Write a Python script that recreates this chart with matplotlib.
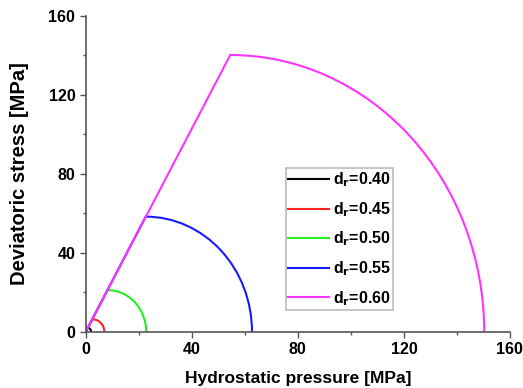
import matplotlib.pyplot as plt
from matplotlib.patches import Arc

# relative density and yield surface points
dr_labels = ['0.40', '0.45', '0.50', '0.55', '0.60']
peak_p = [0.8, 2.5, 8.2, 22.6, 54.5]      # hydrostatic pressure at peak [MPa]
peak_q = [2.0, 6.3, 21.1, 58.3, 140.2]    # deviatoric stress at peak [MPa]
end_p = [2.0, 7.0, 22.8, 62.7, 150.3]     # hydrostatic pressure where q = 0
colors = ['#000000', '#ff2020', '#22ee22', '#1a1aff', '#ff33ff']

plt.rcParams['font.family'] = ['Liberation Sans', 'DejaVu Sans']
plt.rcParams['font.weight'] = 'bold'

fig = plt.figure(figsize=(5.23, 3.88), dpi=100)
ax = fig.add_axes([0.164, 0.145, 0.811, 0.814])

for i in range(len(dr_labels)):
    ax.plot([0, peak_p[i]], [0, peak_q[i]], color=colors[i], lw=1.5,
            label=r'd$_\mathbf{r}$=' + dr_labels[i])
    # elliptical cap from the peak down to the pressure axis
    ax.add_patch(Arc((peak_p[i], 0), 2 * (end_p[i] - peak_p[i]), 2 * peak_q[i],
                     theta1=0, theta2=90, color=colors[i], lw=1.5))

ax.set_xlim(0, 160)
ax.set_ylim(0, 160)
ax.set_xticks([0, 40, 80, 120, 160])
ax.set_yticks([0, 40, 80, 120, 160])
ax.set_xticks(range(0, 161, 20), minor=True)
ax.set_yticks(range(0, 161, 20), minor=True)
ax.tick_params(which='major', length=4, width=1, labelsize=11.5, color='#555555')
ax.tick_params(which='minor', length=2.5, width=1, color='#555555')
for s in ['top', 'right']:
    ax.spines[s].set_visible(False)
for s in ['left', 'bottom']:
    ax.spines[s].set_color('#555555')
    ax.spines[s].set_linewidth(1.2)

ax.set_xlabel('Hydrostatic pressure [MPa]', fontsize=12.5, fontweight='bold', labelpad=10)
ax.set_ylabel('Deviatoric stress [MPa]', fontsize=14.5, fontweight='bold', labelpad=14)

leg = ax.legend(loc='lower left', bbox_to_anchor=(0.472, 0.069), fontsize=11.5,
                frameon=True, fancybox=False, handlelength=2.55, handletextpad=0.25,
                borderpad=0.15, labelspacing=0.68, borderaxespad=0)
leg.get_frame().set_edgecolor('#aaaaaa')
leg.get_frame().set_linewidth(1.2)
plt.setp(leg.get_texts(), fontweight='bold')

plt.savefig('out.png', dpi=100)
